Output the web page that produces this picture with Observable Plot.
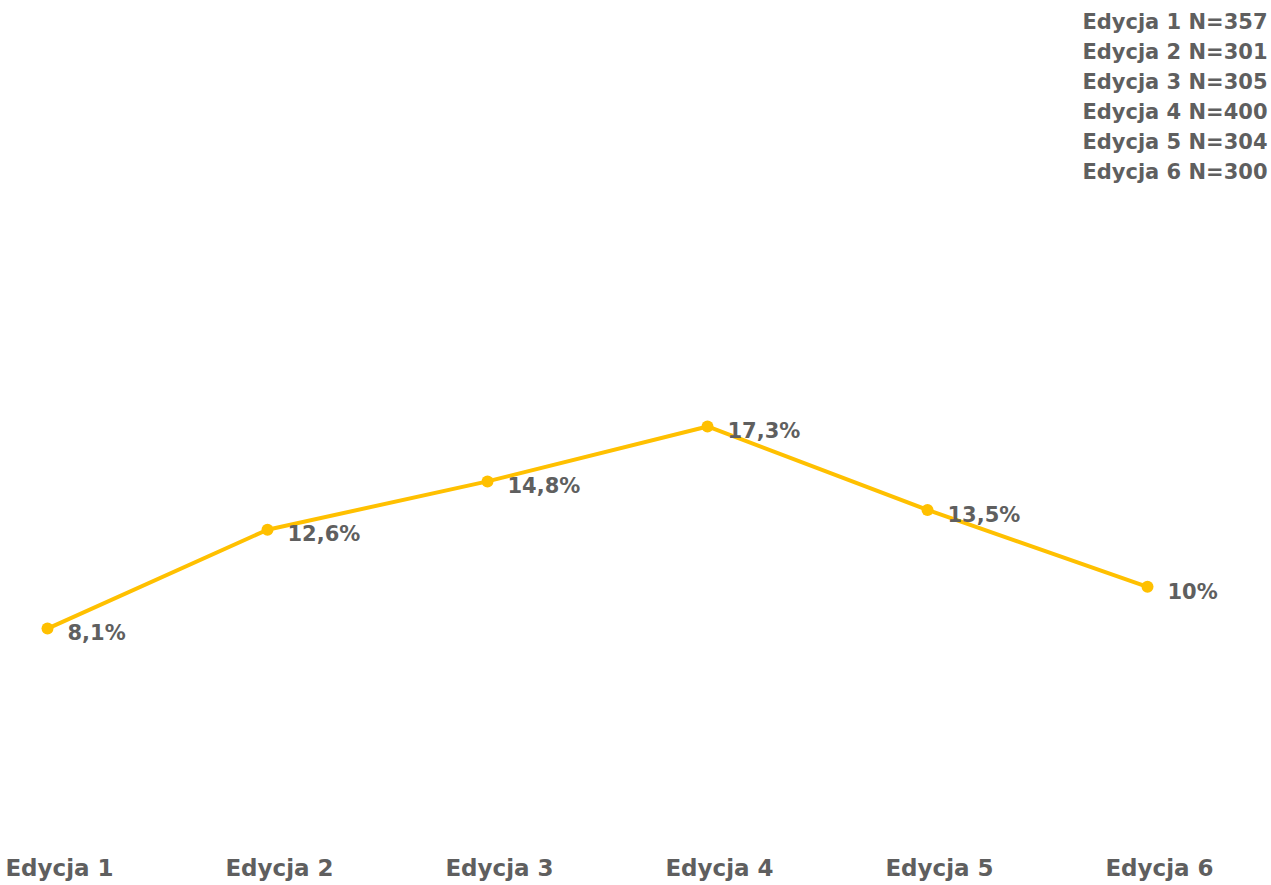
<!DOCTYPE html>
<html><head><meta charset="utf-8">
<script src="https://cdn.jsdelivr.net/npm/d3@7"></script>
<script src="https://cdn.jsdelivr.net/npm/@observablehq/plot@0.6"></script>
<style>body{margin:0;background:#fff;} svg{display:block}</style>
</head><body><div id="chart"></div>
<script>
const editions = ["Edycja 1","Edycja 2","Edycja 3","Edycja 4","Edycja 5","Edycja 6"];
const values = [8.1, 12.6, 14.8, 17.3, 13.5, 10];
const sampleSizes = [357, 301, 305, 400, 304, 300];

const data = editions.map((e, i) => ({edition: e, value: values[i]}));
const legendText = editions.map((e, i) => `${e} N=${sampleSizes[i]}`).join("\n");
const fmt = v => String(v).replace(".", ",") + "%";
const gray = "#5f5f5f";
const gold = "#FFC000";

const chart = Plot.plot({
  width: 1271,
  height: 885,
  marginLeft: 47,
  marginRight: 124,
  marginTop: 147,
  marginBottom: 79,
  style: {fontFamily: "'DejaVu Sans', sans-serif", color: gray, background: "#fff"},
  x: {type: "point", domain: editions, padding: 0},
  y: {domain: [0, 30], axis: null},
  marks: [
    Plot.axisX({tickSize: 0, tickPadding: 53, fontSize: 23, fontWeight: "bold", dx: 12, fill: gray, label: null}),
    Plot.line(data, {x: "edition", y: "value", stroke: gold, strokeWidth: 4}),
    Plot.dot(data, {x: "edition", y: "value", r: 6, fill: gold, stroke: "none"}),
    Plot.text(data, {x: "edition", y: "value", text: d => fmt(d.value), textAnchor: "start", dx: 20, dy: 5, fontSize: 21, fontWeight: "bold", fill: gray}),
    Plot.text([legendText], {frameAnchor: "top-right", text: d => d, textAnchor: "end", lineAnchor: "top", lineHeight: 1.43, dx: 120, dy: -140, fontSize: 21, fontWeight: "bold", fill: gray})
  ]
});
document.getElementById("chart").appendChild(chart);
</script>
</body></html>
